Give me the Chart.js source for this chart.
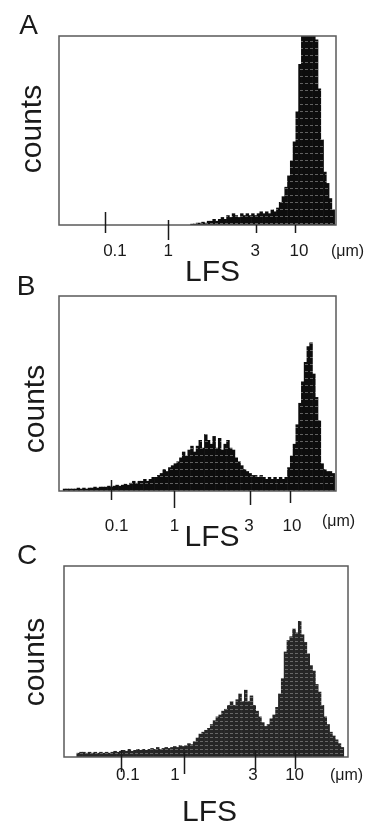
<!DOCTYPE html>
<html>
<head>
<meta charset="utf-8">
<script src="https://cdn.jsdelivr.net/npm/chart.js@4.4.1/dist/chart.umd.min.js"></script>
<style>
html,body{margin:0;padding:0;background:#fff;}
body{width:366px;height:827px;position:relative;overflow:hidden;font-family:"Liberation Sans",Arial,sans-serif;color:#1a1a1a;}
canvas{position:absolute;left:0;}
.t{position:absolute;line-height:1;white-space:nowrap;transform:translate(-50%,-50%);}
.letter{font-size:28px;}
.lfs{font-size:30px;}
.cnt{font-size:30px;transform:translate(-50%,-50%) rotate(-90deg);}
.um{font-size:16px;}
</style>
</head>
<body>
<canvas id="pa" width="366" height="270"></canvas>
<canvas id="pb" width="366" height="290"></canvas>
<canvas id="pc" width="366" height="250"></canvas>

<div class="t letter" style="left:28.5px;top:25px">A</div>
<div class="t cnt" style="left:31px;top:129px">counts</div>
<div class="t um" style="left:347.5px;top:251px">(μm)</div>
<div class="t lfs" style="left:212.5px;top:271px">LFS</div>

<div class="t letter" style="left:26px;top:286px">B</div>
<div class="t cnt" style="left:34px;top:409px">counts</div>
<div class="t um" style="left:338.5px;top:521px">(μm)</div>
<div class="t lfs" style="left:212px;top:536px">LFS</div>

<div class="t letter" style="left:27px;top:555px">C</div>
<div class="t cnt" style="left:34px;top:662px">counts</div>
<div class="t um" style="left:346.5px;top:775px">(μm)</div>
<div class="t lfs" style="left:209.5px;top:811px">LFS</div>

<script>
// ---- データ（x はチャンネル 0-100、y は枠の高さに対する %）----
const TICK_LABELS = ['0.1', '1', '3', '10'];

// A
const A_START = 48;
const A_COUNTS = [
  0.5, 0.5, 1, 1, 1.5, 1, 2, 2, 3, 2,
  3, 4, 3, 5, 4, 6, 5, 4, 6, 5,
  6, 5, 6, 5, 6, 7, 6, 7, 6, 8,
  7, 9, 12, 15, 20, 26, 34, 44, 60, 85,
  100, 100, 100, 100, 100, 98, 72, 45, 28, 22,
  14, 8
];
const A_TICKS = [16.6, 39.4, 71.1, 85.2];
const A_LABEL_AT = [20.2, 39.4, 70.8, 86.6];

// B
const B_START = 2;
const B_COUNTS = [
  1, 1, 1, 1, 1, 1.5, 1, 1.5, 1, 1.5,
  1.5, 2, 1.5, 2, 2, 2, 2.5, 2, 2.5, 3,
  2.5, 3, 3.5, 3, 4, 5, 4, 5, 5, 6,
  5, 6, 7, 7, 8, 9, 11, 10, 12, 13,
  14, 15, 17, 20, 18, 21, 23, 20, 23, 26,
  22, 29, 26, 24, 28, 22, 27, 21, 24, 26,
  22, 21, 17, 15, 13, 11, 10, 9, 8, 8,
  7, 8, 7, 6, 7, 6, 7, 6, 7, 6,
  7, 12, 18, 24, 34, 45, 56, 66, 74, 76,
  60, 48, 36, 14, 11, 10, 10, 9
];
const B_TICKS = [18.8, 41.5, 69.0, 83.4];
const B_LABEL_AT = [20.8, 41.7, 68.6, 84.1];

// C
const C_START = 5;
const C_COUNTS = [
  2, 2.5, 2.5, 2, 2.5, 2, 2.5, 2, 2.5, 2,
  2.5, 2, 2.5, 3, 2.5, 3, 3.5, 3, 4, 3,
  3.5, 4, 3.5, 4, 3.5, 4, 4.5, 4, 5, 4,
  4.5, 5, 4.5, 5, 5.5, 5, 6, 5.5, 6, 7,
  6.5, 8, 10, 12, 13, 14, 15, 17, 19, 21,
  22, 24, 25, 27, 29, 27, 30, 33, 29, 35,
  29, 32, 27, 24, 21, 18, 16, 17, 20, 22,
  26, 33, 41, 55, 61, 63, 67, 65, 71, 64,
  60, 54, 48, 45, 38, 34, 27, 21, 17, 13,
  11, 9, 7, 5
];
const C_TICKS = [20.1, 42.3, 67.3, 81.3];
const C_LABEL_AT = [22.5, 39.1, 66.5, 81.2];

// ---- 塗り（スキャンっぽい横縞）----
function hatch(base, line, step) {
  const c = document.createElement('canvas');
  c.width = 5; c.height = step;
  const g = c.getContext('2d');
  g.fillStyle = base; g.fillRect(0, 0, 5, step);
  g.fillStyle = line; g.fillRect(0, step - 1, 3, 1);
  return g.createPattern(c, 'repeat');
}

// 枠線と目盛り線
const frameTicks = {
  id: 'frameTicks',
  afterDatasetsDraw(c, args, o) {
    const { ctx, chartArea: a, scales: { x } } = c;
    ctx.save();
    ctx.strokeStyle = '#5a5a5a';
    ctx.lineWidth = 1.5;
    ctx.strokeRect(a.left, a.top, a.right - a.left, a.bottom - a.top);
    ctx.strokeStyle = '#1a1a1a';
    o.at.forEach((v, i) => {
      const px = Math.round(x.getPixelForValue(v)) + 0.5;
      const [up, down] = o.len[i];
      ctx.beginPath();
      ctx.moveTo(px, a.bottom - up);
      ctx.lineTo(px, a.bottom + down);
      ctx.stroke();
    });
    ctx.restore();
  }
};

function makePanel(p) {
  const cv = document.getElementById(p.id);
  cv.style.top = p.top + 'px';
  const pts = p.counts.map((v, i) => ({ x: p.start + i, y: v }));
  return new Chart(cv, {
    type: 'bar',
    data: { datasets: [{
      data: pts,
      backgroundColor: p.fill,
      borderWidth: 0,
      barPercentage: 1,
      categoryPercentage: 1
    }] },
    options: {
      responsive: false,
      animation: false,
      events: [],
      layout: { padding: { left: p.box[0], right: 366 - p.box[2], top: p.box[1] - p.top, bottom: 0 } },
      scales: {
        x: {
          type: 'linear', min: 0, max: 100, offset: false,
          grid: { display: false, drawTicks: false },
          border: { display: false },
          afterBuildTicks: s => { s.ticks = p.labelAt.map(v => ({ value: v })); },
          afterFit: s => { s.height = p.height - (p.box[3] - p.top); },
          ticks: {
            autoSkip: false, maxRotation: 0, minRotation: 0,
            padding: p.labelPad, color: '#1a1a1a',
            font: { family: '"Liberation Sans", Arial, sans-serif', size: 17 },
            callback: (v, i) => TICK_LABELS[i]
          }
        },
        y: { display: false, min: 0, max: 100 }
      },
      plugins: {
        legend: { display: false },
        tooltip: { enabled: false },
        frameTicks: { at: p.ticks, len: p.tickLen }
      }
    },
    plugins: [frameTicks]
  });
}

makePanel({ id: 'pa', top: 0, height: 270, box: [59, 36, 336, 225], labelPad: 16,
  start: A_START, counts: A_COUNTS, ticks: A_TICKS, labelAt: A_LABEL_AT,
  tickLen: [[13, 8], [5, 15], [0, 8], [0, 8]],
  fill: hatch('#0d0d0d', 'rgba(255,255,255,0.35)', 7) });

makePanel({ id: 'pb', top: 260, height: 290, box: [59, 296, 336, 491], labelPad: 25,
  start: B_START, counts: B_COUNTS, ticks: B_TICKS, labelAt: B_LABEL_AT,
  tickLen: [[11, 9], [0, 17], [0, 14], [0, 12]],
  fill: hatch('#0d0d0d', 'rgba(255,255,255,0.35)', 7) });

makePanel({ id: 'pc', top: 550, height: 250, box: [64, 566, 348, 757], labelPad: 8,
  start: C_START, counts: C_COUNTS, ticks: C_TICKS, labelAt: C_LABEL_AT,
  tickLen: [[7, 15], [5, 17], [7, 13], [7, 12]],
  fill: hatch('#262626', 'rgba(255,255,255,0.3)', 4) });
</script>
</body>
</html>
